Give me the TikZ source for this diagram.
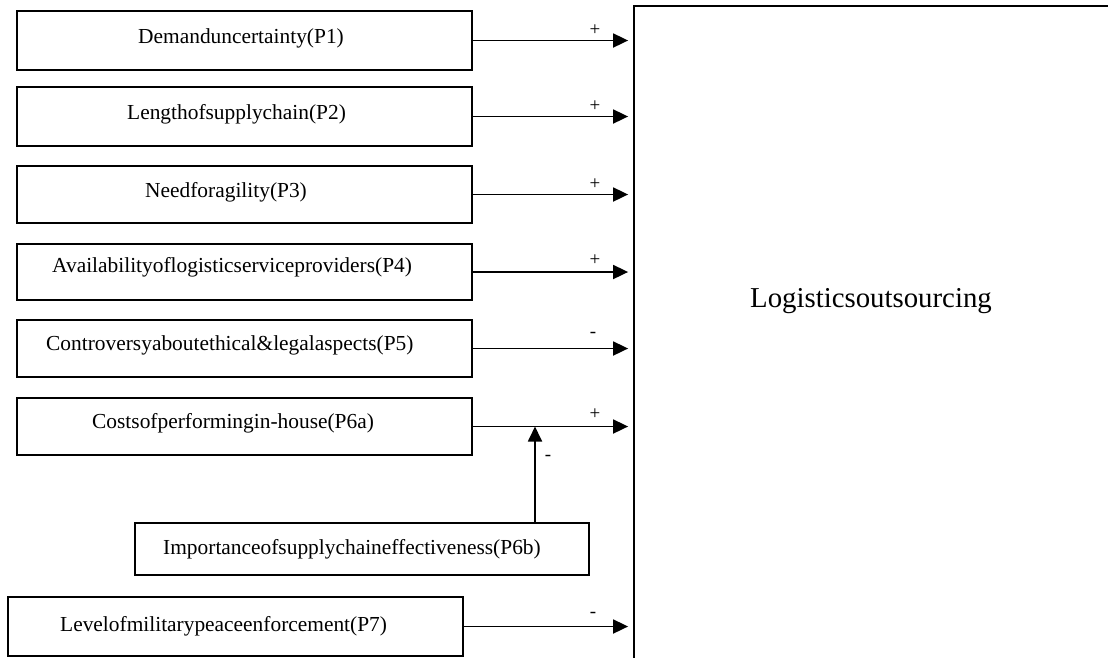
\documentclass[tikz,border=0pt]{standalone}
\usepackage{fontspec}
\setmainfont{Liberation Serif}
\usetikzlibrary{arrows.meta}
\begin{document}
\begin{tikzpicture}[x=1pt,y=-1pt,
  box/.style={draw, line width=1.8pt, rectangle, inner sep=0pt},
  lbl/.style={font=\fontsize{21.4}{24}\selectfont, inner sep=0pt, anchor=base west},
  sgn/.style={font=\fontsize{19}{22}\selectfont, inner sep=0pt},
  arr/.style={line width=1.8pt, shorten >=5pt, -{Triangle[length=15pt,width=14pt]}},
]
\useasboundingbox (0,0) rectangle (1108,657);
\clip (0,0) rectangle (1108,657);

% outcome box, running past the right and bottom edges
\node[box, minimum width=506pt, minimum height=694pt] (lo) at (887,353) {};
\node[font=\fontsize{28.8}{32}\selectfont, inner sep=0pt, anchor=base] (lot) at (871,307) {Logisticsoutsourcing};

% antecedent boxes
\node[box, minimum width=455pt, minimum height=59pt] (p1) at (244.5,40.5) {};
\node[box, minimum width=455pt, minimum height=59pt] (p2) at (244.5,116.5) {};
\node[box, minimum width=455pt, minimum height=57pt] (p3) at (244.5,194.5) {};
\node[box, minimum width=455pt, minimum height=56pt] (p4) at (244.5,272) {};
\node[box, minimum width=455pt, minimum height=57pt] (p5) at (244.5,348.5) {};
\node[box, minimum width=455pt, minimum height=57pt] (p6) at (244.5,426.5) {};
\node[box, minimum width=454pt, minimum height=52pt] (p6b) at (362,549) {};
\node[box, minimum width=455pt, minimum height=59pt] (p7) at (235.5,626.5) {};

\node[lbl] (t1) at (138,43) {Demanduncertainty(P1)};
\node[lbl] (t2) at (127,119) {Lengthofsupplychain(P2)};
\node[lbl] (t3) at (145,197) {Needforagility(P3)};
\node[lbl] (t4) at (52,272) {Availabilityoflogisticserviceproviders(P4)};
\node[lbl] (t5) at (46,350) {Controversyaboutethical\&legalaspects(P5)};
\node[lbl] (t6) at (92,428) {Costsofperformingin-house(P6a)};
\node[lbl] (t6b) at (163,554) {Importanceofsupplychaineffectiveness(P6b)};
\node[lbl] (t7) at (60,631) {Levelofmilitarypeaceenforcement(P7)};

% connectors into the outcome box
\foreach \p in {p1,p2,p3,p4,p5,p6,p7}
  \draw[arr] (\p.east) -- (\p.east -| lo.west);

% moderating effect on the P6a path
\coordinate (jx) at (535,0);
\draw[arr, shorten >=0pt] (jx |- p6b.north) -- (jx |- p6.east);

% signs of the effects
\node[sgn] (s1) at (595,30) {+};
\node[sgn] (s2) at (595,106) {+};
\node[sgn] (s3) at (595,184) {+};
\node[sgn] (s4) at (595,260) {+};
\node[sgn] (s5) at (593,335) {-};
\node[sgn] (s6) at (595,414) {+};
\node[sgn] (s6b) at (548,458) {-};
\node[sgn] (s7) at (593,615) {-};
\end{tikzpicture}
\end{document}
